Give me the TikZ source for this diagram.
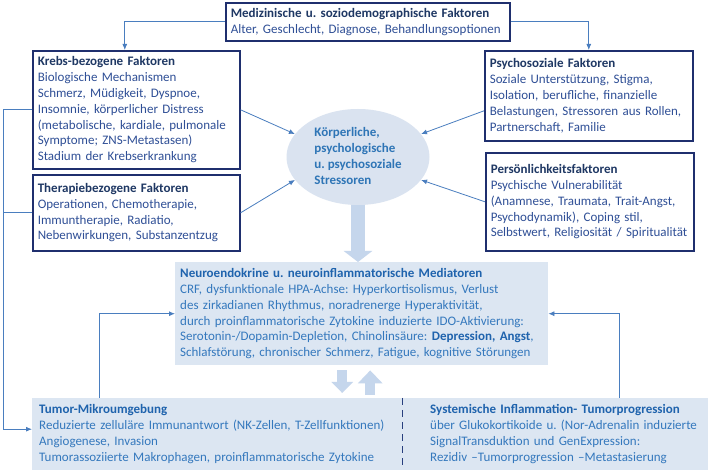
\documentclass[tikz,border=0pt]{standalone}
\usepackage{fontspec}
\setmainfont{Carlito}
\usetikzlibrary{arrows.meta,shapes.geometric,calc}
\definecolor{boxnavy}{HTML}{1F2F6E}
\definecolor{titlenavy}{HTML}{1F3864}
\definecolor{bodynavy}{HTML}{2F4F96}
\definecolor{lineblue}{HTML}{4A7EBF}
\definecolor{lightfill}{HTML}{DCE6F2}
\definecolor{ellfill}{HTML}{DAE3F0}
\definecolor{blockcol}{HTML}{C5D6EC}
\definecolor{midtitle}{HTML}{1F63AD}
\definecolor{midbody}{HTML}{3478BD}
\definecolor{elltext}{HTML}{2E75B6}
\frenchspacing
\begin{document}
\begin{tikzpicture}[x=1pt,y=-1pt,
  every node/.style={font=\fontsize{13}{15.8}\selectfont},
  fbox/.style={draw=boxnavy, line width=1.6pt, fill=white, align=left, anchor=north west,
    inner xsep=5pt, inner ysep=2pt, text=bodynavy},
  lbox/.style={align=left, anchor=north west, inner xsep=5pt, inner ysep=2pt, text=midbody},
  conn/.style={draw=lineblue, line width=0.8pt},
  arr/.style={conn, -{Latex[length=6pt,width=5pt]}},
  blockarr/.style={draw=blockcol, line width=#1},
  divider/.style={draw=boxnavy!80!lineblue, line width=1.6pt, dash pattern=on 7pt off 5pt}
]
\useasboundingbox (0,0) rectangle (710,470);
\fill[white] (0,0) rectangle (710,470);

% top box
\node[fbox, text width=274pt, minimum height=38pt] (top) at (225,2)
 {\textbf{\color{titlenavy}Medizinische u. soziodemographische Faktoren}\\Alter, Geschlecht, Diagnose, Behandlungsoptionen};

% left boxes
\node[fbox, text width=197pt, minimum height=118pt] (krebs) at (32,50)
 {\textbf{\color{titlenavy}Krebs-bezogene Faktoren}\\
  Biologische Mechanismen\\
  Schmerz, Müdigkeit, Dyspnoe,\\
  Insomnie, körperlicher Distress\\
  (metabolische, kardiale, pulmonale\\
  Symptome; ZNS-Metastasen)\\
  Stadium der Krebserkrankung};
\node[fbox, text width=197pt, minimum height=76pt] (ther) at (32,174)
 {\textbf{\color{titlenavy}Therapiebezogene Faktoren}\\
  Operationen, Chemotherapie,\\
  Immuntherapie, Radiatio,\\
  Nebenwirkungen, Substanzentzug};

% right boxes
\node[fbox, text width=198pt, minimum height=90pt] (psy) at (484,50)
 {\textbf{\color{titlenavy}Psychosoziale Faktoren}\\
  Soziale Unterstützung, Stigma,\\
  Isolation, berufliche, finanzielle\\
  Belastungen, Stressoren aus Rollen,\\
  Partnerschaft, Familie};
\node[fbox, text width=198pt, minimum height=98pt] (pers) at (485,152)
 {\textbf{\color{titlenavy}Persönlichkeitsfaktoren}\\
  Psychische Vulnerabilität\\
  (Anamnese, Traumata, Trait-Angst,\\
  Psychodynamik), Coping stil,\\
  Selbstwert, Religiosität / Spiritualität};

% ellipse
\node[ellipse, fill=ellfill, minimum width=143pt, minimum height=96pt, inner sep=0pt,
  text=elltext, font=\fontsize{13}{16}\selectfont\bfseries] (ell) at (358,157)
 {\renewcommand{\arraystretch}{1.0}\setlength{\tabcolsep}{0pt}\begin{tabular}{l}Körperliche,\\psychologische\\u. psychosoziale\\Stressoren\end{tabular}};

% mediators
\node[lbox, fill=lightfill, text width=363pt, minimum height=103pt] (med) at (175,262)
 {\textbf{\color{midtitle}Neuroendokrine u. neuroinflammatorische Mediatoren}\\
  CRF, dysfunktionale HPA-Achse: Hyperkortisolismus, Verlust\\
  des zirkadianen Rhythmus, noradrenerge Hyperaktivität,\\
  durch proinflammatorische Zytokine induzierte IDO-Aktivierung:\\
  Serotonin-/Dopamin-Depletion, Chinolinsäure: \textbf{\color{midtitle}Depression, Angst},\\
  Schlafstörung, chronischer Schmerz, Fatigue, kognitive Störungen};

% bottom
\fill[lightfill] (32,398) rectangle (708,470);
\node[lbox, inner xsep=7pt, text width=356pt, minimum height=72pt] (tumor) at (32,398)
 {\textbf{\color{midtitle}Tumor-Mikroumgebung}\\
  Reduzierte zelluläre Immunantwort (NK-Zellen, T-Zellfunktionen)\\
  Angiogenese, Invasion\\
  Tumorassoziierte Makrophagen, proinflammatorische Zytokine};
\node[lbox, inner xsep=7pt, text width=276pt, minimum height=72pt] (sys) at (423,398)
 {\textbf{\color{midtitle}Systemische Inflammation- Tumorprogression}\\
  über Glukokortikoide u. (Nor-Adrenalin induzierte\\
  SignalTransduktion und GenExpression:\\
  Rezidiv –Tumorprogression –Metastasierung};
\draw[divider] (tumor.north east) -- (tumor.south east);

% connectors
\draw[arr] (top.west) -| ([xshift=-11.5pt]krebs.north);
\draw[arr] (top.east) -| (psy.north);
\draw[arr] (krebs.east) -- (ell.160);
\draw[arr] (ther.east) -- (ell.200);
\draw[arr] ([yshift=-15pt]psy.west) -- (ell.20);
\draw[arr] (pers.west) -- (ell.-20);
\draw[conn] (ther.west) -- ++(-29,0);
\draw[arr] (krebs.west) -- ++(-29,0) |- ([yshift=5pt]tumor.west);
\draw[arr] ([xshift=67pt]tumor.north west) |- (med.west);
\draw[arr] ([xshift=196pt]sys.north west) |- (med.east);

% block arrows
\draw[blockarr=14pt, -{Triangle[width=28pt,length=11pt]}] (ell.south) -- (ell.south |- med.north);
\draw[blockarr=10pt, -{Triangle[width=21pt,length=11pt]}] ($(med.south)+(-19.5,5)$) -- ($(med.south |- tumor.north)+(-19.5,-5)$);
\draw[blockarr=10pt, -{Triangle[width=24pt,length=13pt]}] ($(med.south |- tumor.north)+(8.5,-3)$) -- ($(med.south)+(8.5,5)$);
\end{tikzpicture}
\end{document}
